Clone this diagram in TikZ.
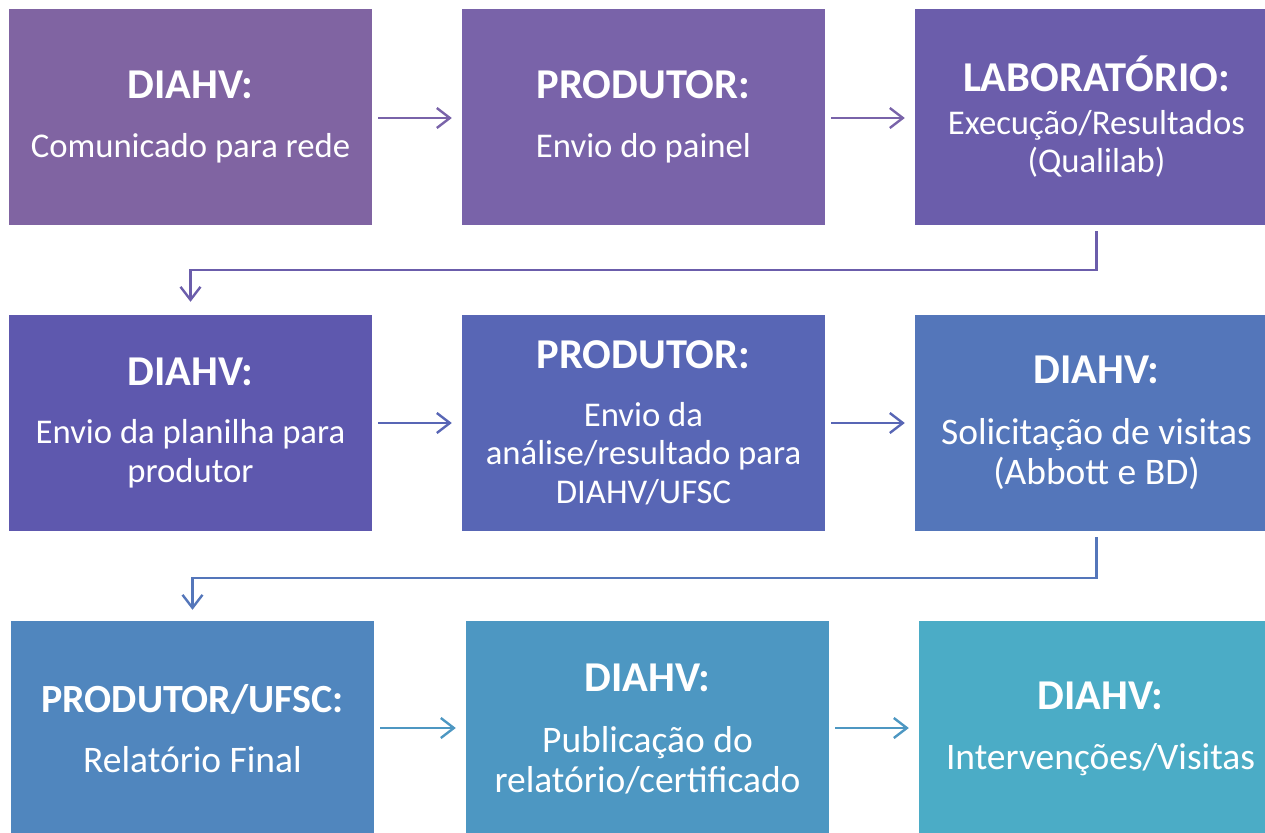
\documentclass[tikz,border=0pt]{standalone}
\usepackage{fontspec}
\setmainfont{Carlito}
\usetikzlibrary{arrows.meta,calc}

\definecolor{cA}{HTML}{8064A2}
\definecolor{cB}{HTML}{7963A9}
\definecolor{cC}{HTML}{6B5DAB}
\definecolor{cD}{HTML}{5E58AE}
\definecolor{cE}{HTML}{5866B5}
\definecolor{cF}{HTML}{5476BA}
\definecolor{cG}{HTML}{5086BE}
\definecolor{cH}{HTML}{4D97C2}
\definecolor{cI}{HTML}{4BACC6}

\tikzset{
  stage/.style={rectangle,inner sep=0pt,minimum width=363pt,minimum height=216pt,
    text=white,align=center,font=\fontsize{34.7}{38.5}\selectfont},
  big/.style={font=\fontsize{37.5}{40}\selectfont},
  flow/.style={line width=2.4pt,-{Straight Barb[length=13pt,width=20pt,line width=2.4pt]},
    shorten <=6pt,shorten >=10pt},
  elbow/.style={line width=2.4pt,-{Straight Barb[length=13pt,width=20pt,line width=2.4pt]}}
}
\newcommand{\hd}[3][42.5]{{\fontsize{#1}{46}\selectfont\bfseries #3}\\[#2]}

\begin{document}
\begin{tikzpicture}[x=1pt,y=-1pt]
\useasboundingbox (0,0) rectangle (1265,832);
\clip (0,0) rectangle (1265,832);

% row 1
\node[stage,fill=cA] (b1) at (190.5,117) {\hd{20pt}{DIAHV:}Comunicado para rede};
\node[stage,fill=cB] (b2) at (643.5,117) {\hd{20pt}{PRODUTOR:}Envio do painel};
\node[stage,fill=cC] (b3) at (1096.5,117) {\hd{4pt}{LABORATÓRIO:}Execução/Resultados\\(Qualilab)};

% row 2
\node[stage,fill=cD] (b4) at (190.5,423) {\hd{20pt}{DIAHV:}Envio da planilha para\\produtor};
\node[stage,fill=cE] (b5) at (643.5,423) {\hd{19pt}{PRODUTOR:}Envio da\\análise/resultado para\\DIAHV/UFSC};
\node[stage,big,fill=cF] (b6) at (1096.5,423) {\hd{21pt}{DIAHV:}Solicitação de visitas\\(Abbott e BD)};

% row 3
\node[stage,big,fill=cG] (b7) at (192.5,729) {\hd[40]{20pt}{PRODUTOR/UFSC:}Relatório Final};
\node[stage,big,fill=cH] (b8) at (647.5,729) {\hd{21pt}{DIAHV:}Publicação do\\relatório/certificado};
\node[stage,big,fill=cI] (b9) at (1100.5,729) {\hd{20pt}{DIAHV:}Intervenções/Visitas};

% arrows
\draw[flow,color=cB] ([yshift=-1pt]b1.east) -- ([yshift=-1pt]b2.west);
\draw[flow,color=cB] ([yshift=-1pt]b2.east) -- ([yshift=-1pt]b3.west);
\draw[elbow,color=cC] ([yshift=-6pt]b3.south) -- ++(0,39) -| ([yshift=13pt]b4.north);
\draw[flow,color=cE] (b4.east) -- (b5.west);
\draw[flow,color=cE] (b5.east) -- (b6.west);
\draw[elbow,color=cF] ([yshift=-6pt]b6.south) -- ++(0,41) -| ([yshift=11pt]b7.north);
\draw[flow,color=cH] ([yshift=1pt]b7.east) -- ([yshift=1pt]b8.west);
\draw[flow,color=cH] ([yshift=1pt]b8.east) -- ([yshift=1pt]b9.west);
\end{tikzpicture}
\end{document}
